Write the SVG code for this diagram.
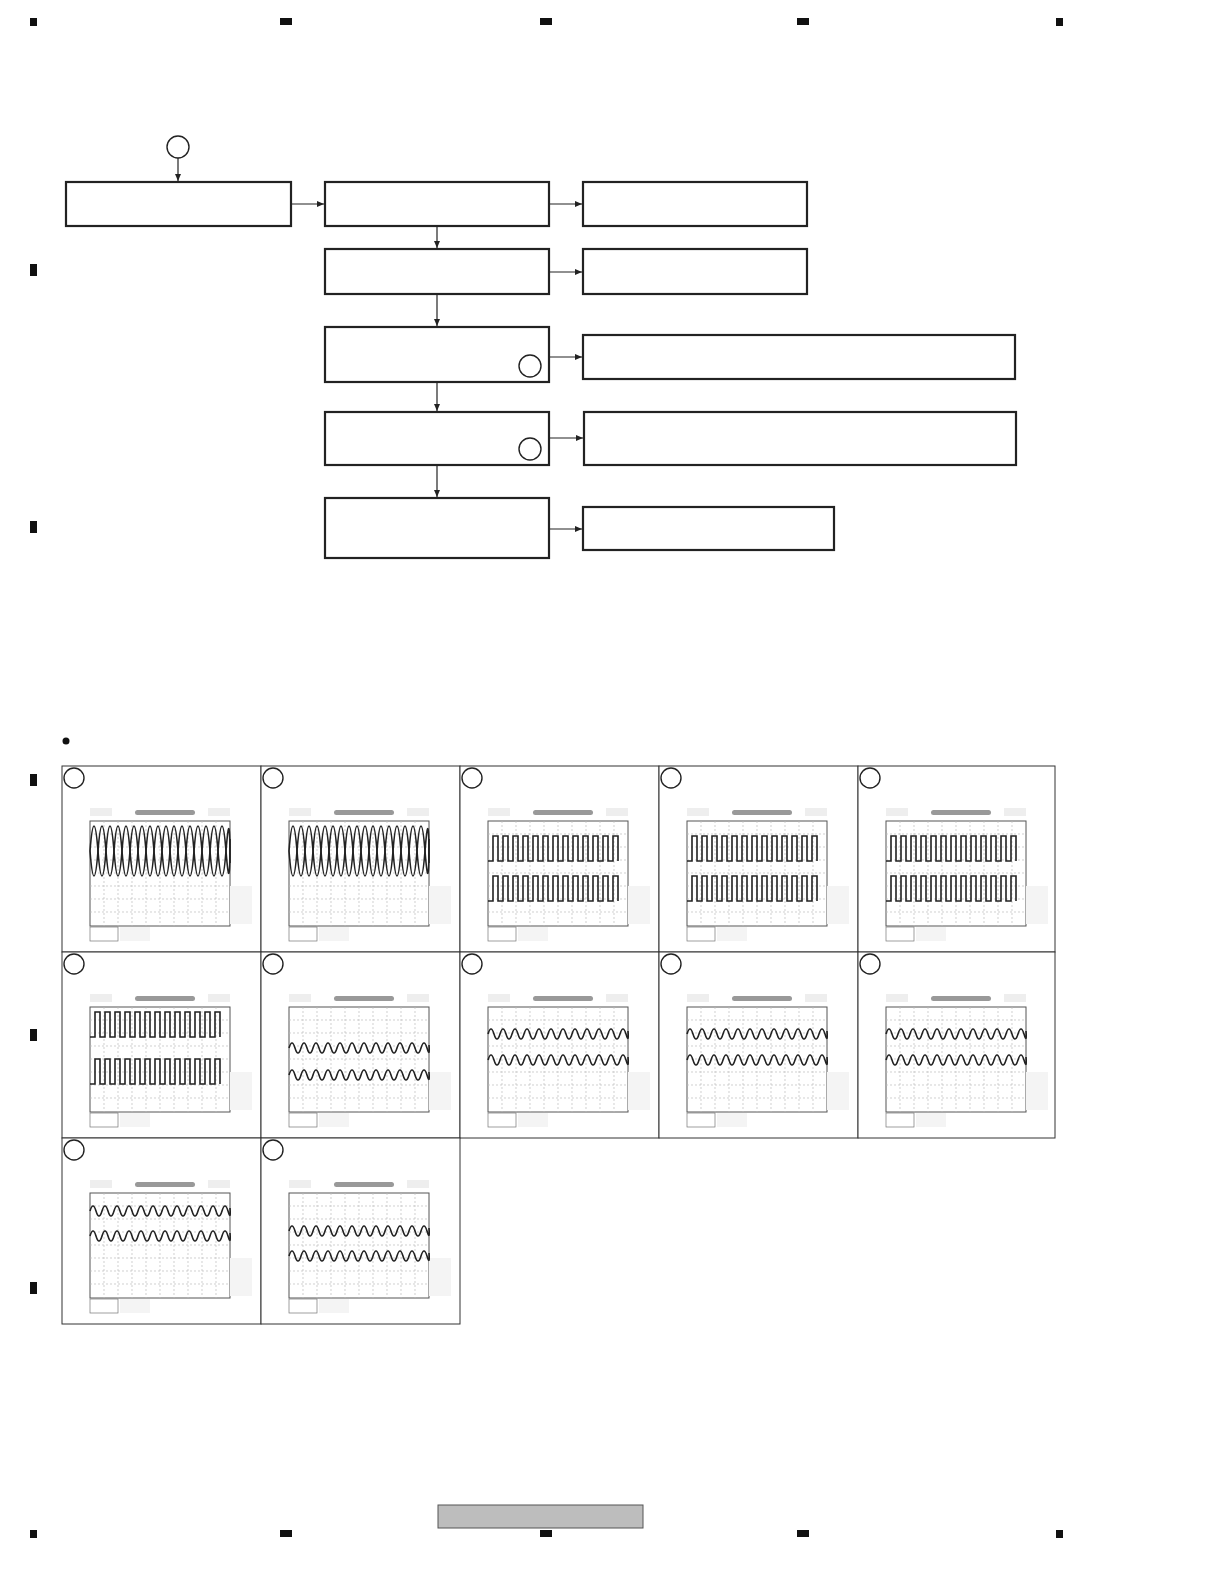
<svg xmlns="http://www.w3.org/2000/svg" xmlns:xlink="http://www.w3.org/1999/xlink" width="1224" height="1584" viewBox="0 0 1224 1584">
<style>
.box{fill:#fff;stroke:#222;stroke-width:2.2}
.ln{stroke:#222;stroke-width:1.2;fill:none}
.circ{fill:#fff;stroke:#222;stroke-width:1.4}
.panel{fill:#fff;stroke:#333;stroke-width:1}
.mk{fill:#111}
.grid{stroke:#bbb;stroke-width:0.7;stroke-dasharray:2 2}
.wave{fill:none;stroke:#222;stroke-width:1.6}
</style>
<defs>
<marker id="ah" markerWidth="8" markerHeight="8" refX="7" refY="3" orient="auto" markerUnits="userSpaceOnUse"><path d="M0,0 L7,3 L0,6 z" fill="#222"/></marker>
<g id="frame">
<rect x="0" y="0" width="140" height="105" fill="#fff" stroke="#555" stroke-width="1"/>
<path class="grid" d="M14 0V105M28 0V105M42 0V105M56 0V105M70 0V105M84 0V105M98 0V105M112 0V105M126 0V105M0 13H140M0 26H140M0 39H140M0 52H140M0 65H140M0 78H140M0 91H140"/>
<rect x="45" y="-11" width="60" height="5" rx="2.5" fill="#999"/>
<rect x="0" y="-13" width="22" height="8" fill="#eee"/>
<rect x="118" y="-13" width="22" height="8" fill="#eee"/>
<rect x="0" y="106" width="28" height="14" fill="none" stroke="#777" stroke-width="0.7"/>
<rect x="30" y="106" width="30" height="14" fill="#f4f4f4"/>
<rect x="140" y="65" width="22" height="38" fill="#f4f4f4"/>
</g>
<path id="sbA" class="wave" d="M0 25q4 -50 8 0t8 0t8 0t8 0t8 0t8 0t8 0t8 0t8 0t8 0t8 0t8 0t8 0t8 0t8 0t8 0t8 0t4 -12"/>
<path id="sbB" class="wave" d="M0 25q4 50 8 0t8 0t8 0t8 0t8 0t8 0t8 0t8 0t8 0t8 0t8 0t8 0t8 0t8 0t8 0t8 0t8 0t4 12"/>
<path id="sq" class="wave" d="M0 25h5v-25h5v25h5v-25h5v25h5v-25h5v25h5v-25h5v25h5v-25h5v25h5v-25h5v25h5v-25h5v25h5v-25h5v25h5v-25h5v25h5v-25h5v25h5v-25h5v25h5v-25h5v25h5v-25h5v25"/>
<path id="ss" class="wave" d="M0 5q3 -10 6 0t6 0t6 0t6 0t6 0t6 0t6 0t6 0t6 0t6 0t6 0t6 0t6 0t6 0t6 0t6 0t6 0t6 0t6 0t6 0t6 0t6 0t6 0t2 -3"/>
</defs>
<g id="page-marks">
<rect class="mk" x="30" y="18" width="7" height="8"/><rect class="mk" x="280" y="18" width="12" height="7"/><rect class="mk" x="540" y="18" width="12" height="7"/><rect class="mk" x="797" y="18" width="12" height="7"/><rect class="mk" x="1056" y="18" width="7" height="8"/>
<rect class="mk" x="30" y="264" width="7" height="12"/><rect class="mk" x="30" y="521" width="7" height="12"/><rect class="mk" x="30" y="774" width="7" height="12"/><rect class="mk" x="30" y="1029" width="7" height="12"/><rect class="mk" x="30" y="1282" width="7" height="12"/>
<rect class="mk" x="30" y="1530" width="7" height="8"/><rect class="mk" x="280" y="1530" width="12" height="7"/><rect class="mk" x="540" y="1530" width="12" height="7"/><rect class="mk" x="797" y="1530" width="12" height="7"/><rect class="mk" x="1056" y="1530" width="7" height="8"/>
<rect x="438" y="1505" width="205" height="23" fill="#bdbdbd" stroke="#555" stroke-width="1"/>
</g>
<g id="connectors">
<line class="ln" x1="178" y1="158" x2="178" y2="181" marker-end="url(#ah)"/>
<line class="ln" x1="291" y1="204" x2="324" y2="204" marker-end="url(#ah)"/>
<line class="ln" x1="549" y1="204" x2="582" y2="204" marker-end="url(#ah)"/>
<line class="ln" x1="437" y1="226" x2="437" y2="248" marker-end="url(#ah)"/>
<line class="ln" x1="549" y1="272" x2="582" y2="272" marker-end="url(#ah)"/>
<line class="ln" x1="437" y1="294" x2="437" y2="326" marker-end="url(#ah)"/>
<line class="ln" x1="549" y1="357" x2="582" y2="357" marker-end="url(#ah)"/>
<line class="ln" x1="437" y1="382" x2="437" y2="411" marker-end="url(#ah)"/>
<line class="ln" x1="549" y1="438" x2="583" y2="438" marker-end="url(#ah)"/>
<line class="ln" x1="437" y1="465" x2="437" y2="497" marker-end="url(#ah)"/>
<line class="ln" x1="549" y1="529" x2="582" y2="529" marker-end="url(#ah)"/>
</g>
<g id="start"><circle class="circ" cx="178" cy="147" r="11"/></g>
<g id="b1"><rect class="box" x="66" y="182" width="225" height="44"/></g>
<g id="b2"><rect class="box" x="325" y="182" width="224" height="44"/></g>
<g id="b3"><rect class="box" x="583" y="182" width="224" height="44"/></g>
<g id="b4"><rect class="box" x="325" y="249" width="224" height="45"/></g>
<g id="b5"><rect class="box" x="583" y="249" width="224" height="45"/></g>
<g id="b6"><rect class="box" x="325" y="327" width="224" height="55"/><circle class="circ" cx="530" cy="366" r="11"/></g>
<g id="b7"><rect class="box" x="583" y="335" width="432" height="44"/></g>
<g id="b8"><rect class="box" x="325" y="412" width="224" height="53"/><circle class="circ" cx="530" cy="449" r="11"/></g>
<g id="b9"><rect class="box" x="584" y="412" width="432" height="53"/></g>
<g id="b10"><rect class="box" x="325" y="498" width="224" height="60"/></g>
<g id="b11"><rect class="box" x="583" y="507" width="251" height="43"/></g>
<circle cx="66" cy="741" r="3.5" fill="#111"/>
<g id="panels">
<g id="p1" transform="translate(62,766)"><rect class="panel" width="199" height="186"/><circle class="circ" cx="12" cy="12" r="10"/><g transform="translate(28,55)"><use href="#frame"/><use href="#sbA" y="5"/><use href="#sbB" y="5"/></g></g>
<g id="p2" transform="translate(261,766)"><rect class="panel" width="199" height="186"/><circle class="circ" cx="12" cy="12" r="10"/><g transform="translate(28,55)"><use href="#frame"/><use href="#sbA" y="5"/><use href="#sbB" y="5"/></g></g>
<g id="p3" transform="translate(460,766)"><rect class="panel" width="199" height="186"/><circle class="circ" cx="12" cy="12" r="10"/><g transform="translate(28,55)"><use href="#frame"/><use href="#sq" y="15"/><use href="#sq" y="55"/></g></g>
<g id="p4" transform="translate(659,766)"><rect class="panel" width="199" height="186"/><circle class="circ" cx="12" cy="12" r="10"/><g transform="translate(28,55)"><use href="#frame"/><use href="#sq" y="15"/><use href="#sq" y="55"/></g></g>
<g id="p5" transform="translate(858,766)"><rect class="panel" width="197" height="186"/><circle class="circ" cx="12" cy="12" r="10"/><g transform="translate(28,55)"><use href="#frame"/><use href="#sq" y="15"/><use href="#sq" y="55"/></g></g>
<g id="p6" transform="translate(62,952)"><rect class="panel" width="199" height="186"/><circle class="circ" cx="12" cy="12" r="10"/><g transform="translate(28,55)"><use href="#frame"/><use href="#sq" y="5"/><use href="#sq" y="52"/></g></g>
<g id="p7" transform="translate(261,952)"><rect class="panel" width="199" height="186"/><circle class="circ" cx="12" cy="12" r="10"/><g transform="translate(28,55)"><use href="#frame"/><use href="#ss" y="36"/><use href="#ss" y="63"/></g></g>
<g id="p8" transform="translate(460,952)"><rect class="panel" width="199" height="186"/><circle class="circ" cx="12" cy="12" r="10"/><g transform="translate(28,55)"><use href="#frame"/><use href="#ss" y="22"/><use href="#ss" y="48"/></g></g>
<g id="p9" transform="translate(659,952)"><rect class="panel" width="199" height="186"/><circle class="circ" cx="12" cy="12" r="10"/><g transform="translate(28,55)"><use href="#frame"/><use href="#ss" y="22"/><use href="#ss" y="48"/></g></g>
<g id="p10" transform="translate(858,952)"><rect class="panel" width="197" height="186"/><circle class="circ" cx="12" cy="12" r="10"/><g transform="translate(28,55)"><use href="#frame"/><use href="#ss" y="22"/><use href="#ss" y="48"/></g></g>
<g id="p11" transform="translate(62,1138)"><rect class="panel" width="199" height="186"/><circle class="circ" cx="12" cy="12" r="10"/><g transform="translate(28,55)"><use href="#frame"/><use href="#ss" y="13"/><use href="#ss" y="38"/></g></g>
<g id="p12" transform="translate(261,1138)"><rect class="panel" width="199" height="186"/><circle class="circ" cx="12" cy="12" r="10"/><g transform="translate(28,55)"><use href="#frame"/><use href="#ss" y="33"/><use href="#ss" y="58"/></g></g>
</g>
</svg>
